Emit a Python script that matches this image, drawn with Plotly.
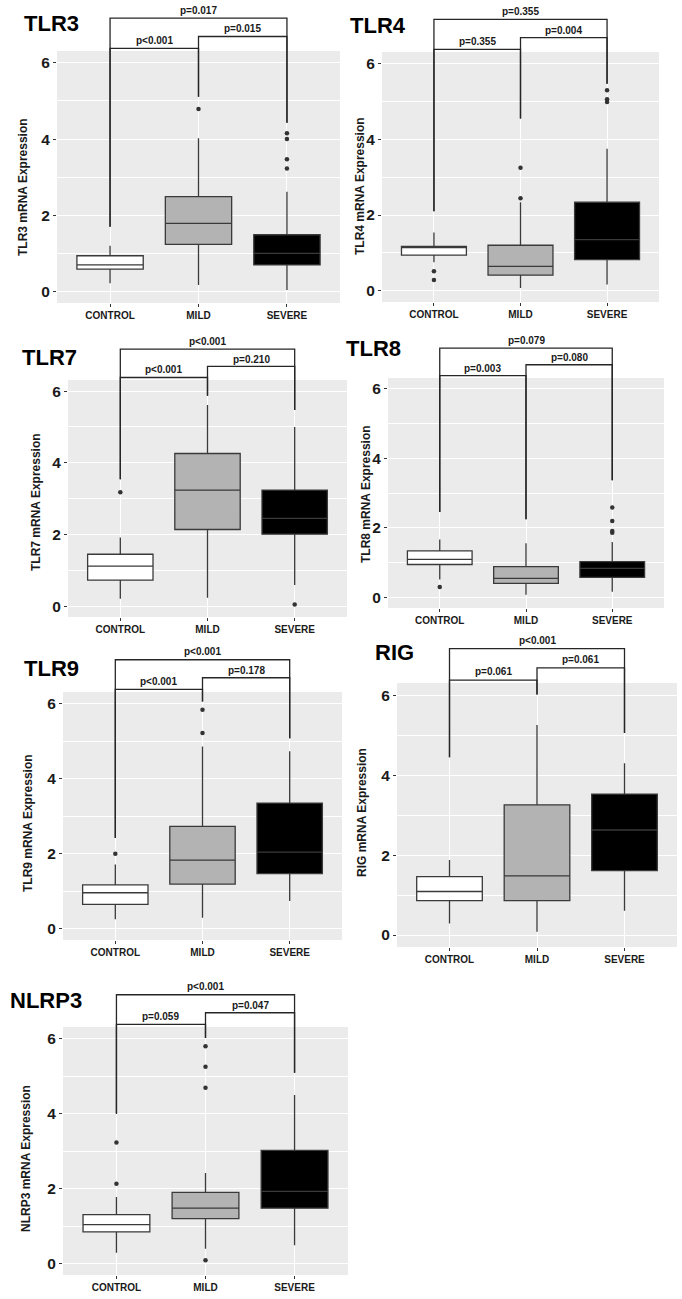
import plotly.graph_objects as go

W, H = 682, 1299

groups = ["CONTROL", "MILD", "SEVERE"]
genes = ["TLR3", "TLR4", "TLR7", "TLR8", "TLR9", "RIG", "NLRP3"]

q1 = [[0.59, 1.24, 0.70], [0.94, 0.41, 0.82], [0.73, 2.14, 2.01], [0.95, 0.41, 0.58],
      [0.65, 1.19, 1.47], [0.86, 0.86, 1.61], [0.85, 1.20, 1.48]]
median = [[0.70, 1.79, 1.00], [1.14, 0.64, 1.35], [1.12, 3.24, 2.45], [1.10, 0.55, 0.84],
          [0.96, 1.83, 2.04], [1.09, 1.48, 2.63], [1.04, 1.48, 1.93]]
q3 = [[0.94, 2.49, 1.49], [1.17, 1.20, 2.34], [1.45, 4.26, 3.24], [1.34, 0.89, 1.03],
      [1.17, 2.73, 3.35], [1.46, 3.26, 3.53], [1.31, 1.90, 3.02]]
lower = [[0.22, 0.17, 0.04], [0.75, 0.07, 0.16], [0.21, 0.24, 0.59], [0.52, 0.08, 0.17],
         [0.25, 0.29, 0.74], [0.29, 0.08, 0.61], [0.29, 0.40, 0.49]]
upper = [[1.20, 4.02, 2.62], [1.54, 2.34, 3.75], [1.92, 5.61, 5.00], [1.67, 1.56, 1.60],
         [1.71, 4.86, 4.73], [1.88, 5.26, 4.30], [1.78, 2.42, 4.50]]
outliers = [
    [[], [4.79], [4.15, 4.00, 3.47, 3.23]],
    [[0.51, 0.28], [3.25, 2.44], [5.30, 5.06, 4.99]],
    [[3.18], [], [0.05]],
    [[0.30], [], [2.59, 2.20, 1.91, 1.86]],
    [[2.00], [5.84, 5.22], []],
    [[], [], []],
    [[3.23, 2.13], [5.80, 5.25, 4.69, 0.09], []],
]
leg_bottom = [[1.70, 5.11, 4.43], [2.10, 4.55, 5.47], [3.54, 5.87, 5.47], [2.46, 2.25, 3.37],
              [2.42, 6.06, 5.08], [4.45, 6.02, 5.06], [4.00, 6.02, 5.09]]
p_ctrl_mild = ["p<0.001", "p=0.355", "p<0.001", "p=0.003", "p<0.001", "p=0.061", "p=0.059"]
p_mild_sev = ["p=0.015", "p=0.004", "p=0.210", "p=0.080", "p=0.178", "p=0.061", "p=0.047"]
p_ctrl_sev = ["p=0.017", "p=0.355", "p<0.001", "p=0.079", "p<0.001", "p<0.001", "p<0.001"]
y_ticks = [0, 2, 4, 6]

# layout (pixels): panel background left, right, top, bottom
panel_px = [(57, 340, 51, 303), (382, 659, 52, 302), (68, 347, 380, 617), (388, 664, 378, 608),
            (63, 342, 692, 940), (397, 677, 683, 947), (63, 348, 1027, 1275)]
title_px = [(22, 23), (348, 25), (20, 357), (344, 348), (22, 668), (373, 652), (8, 1000)]
ytitle_px = [(23, 187), (360, 186), (36, 502), (366, 494), (28, 823), (362, 813), (26, 1159)]

fill_colors = ["#ffffff", "#b3b3b3", "#000000"]
Y_BG_LO, Y_BG_HI, Y_MAX = -0.30, 6.31, 7.6
BR1, BR2, BR3 = 6.38, 6.69, 7.17
TX1, TX2, TX3 = 6.59, 6.89, 7.38

FONT = "Liberation Sans, Arial, sans-serif"
LINE = "#333333"

fig = go.Figure()
layout = dict(width=W, height=H, margin=dict(l=0, r=0, t=0, b=0),
              paper_bgcolor="white", plot_bgcolor="rgba(0,0,0,0)", showlegend=False,
              boxmode="overlay", shapes=[], annotations=[])

for i, gene in enumerate(genes):
    n = i + 1
    xa = "x" if n == 1 else f"x{n}"
    ya = "y" if n == 1 else f"y{n}"
    L, R, T, B = panel_px[i]
    ppu = (B - T) / (Y_BG_HI - Y_BG_LO)
    top_px = T - (Y_MAX - Y_BG_HI) * ppu
    layout["xaxis" if n == 1 else f"xaxis{n}"] = dict(
        domain=[L / W, R / W], anchor=ya, type="category", categoryorder="array",
        categoryarray=groups, range=[-0.6, 2.6], showgrid=True, gridcolor="white", gridwidth=1.2,
        ticks="outside", ticklen=3, tickcolor=LINE, tickwidth=1, zeroline=False, showline=False,
        tickfont=dict(family=FONT, size=10, color="#1a1a1a", weight="bold"), fixedrange=True)
    layout["yaxis" if n == 1 else f"yaxis{n}"] = dict(
        domain=[1 - B / H, 1 - top_px / H], anchor=xa, range=[Y_BG_LO, Y_MAX],
        tickvals=y_ticks, showgrid=True, gridcolor="white", gridwidth=1.2, zeroline=False,
        showline=False, ticks="outside", ticklen=3, tickcolor=LINE, tickwidth=1,
        minor=dict(tickvals=[1, 3, 5], showgrid=True, gridcolor="white", gridwidth=0.6, ticks=""),
        tickfont=dict(family=FONT, size=15.5, color="#1a1a1a", weight="bold"), fixedrange=True)
    # grey panel background
    layout["shapes"].append(dict(type="rect", xref=f"{xa} domain", yref=ya, x0=0, x1=1,
                                 y0=Y_BG_LO, y1=Y_BG_HI, fillcolor="#ebebeb", line=dict(width=0),
                                 layer="below"))
    for g in range(3):
        fig.add_trace(go.Box(
            x=[groups[g]], q1=[q1[i][g]], median=[median[i][g]], q3=[q3[i][g]],
            lowerfence=[lower[i][g]], upperfence=[upper[i][g]], width=0.75,
            fillcolor=fill_colors[g], line=dict(color="#3a3a3a", width=1.3), whiskerwidth=0,
            boxpoints=False, xaxis=xa, yaxis=ya, hoverinfo="skip"))
        if outliers[i][g]:
            fig.add_trace(go.Scatter(
                x=[groups[g]] * len(outliers[i][g]), y=outliers[i][g], mode="markers",
                marker=dict(color="#333333", size=4.5), xaxis=xa, yaxis=ya, hoverinfo="skip"))
    lb = leg_bottom[i]
    brackets = [
        ([groups[0], groups[0], groups[1], groups[1]], [lb[0], BR1, BR1, lb[1]]),
        ([groups[1], groups[1], groups[2], groups[2]], [lb[1], BR2, BR2, lb[2]]),
        ([groups[0], groups[0], groups[2], groups[2]], [lb[0], BR3, BR3, lb[2]]),
    ]
    for bx, by in brackets:
        fig.add_trace(go.Scatter(x=bx, y=by, mode="lines", line=dict(color="#262626", width=1.3),
                                 xaxis=xa, yaxis=ya, hoverinfo="skip", cliponaxis=False))
    for xpos, ypos, txt in [(0.5, TX1, p_ctrl_mild[i]), (1.5, TX2, p_mild_sev[i]),
                            (1.0, TX3, p_ctrl_sev[i])]:
        layout["annotations"].append(dict(
            x=xpos, y=ypos, xref=xa, yref=ya, text=txt, showarrow=False,
            font=dict(family=FONT, size=10, color="#1a1a1a", weight="bold"),
            xanchor="center", yanchor="middle"))
    tx, ty = title_px[i]
    layout["annotations"].append(dict(
        x=tx / W, y=1 - ty / H, xref="paper", yref="paper", text=gene, showarrow=False,
        font=dict(family=FONT, size=22, color="black", weight="bold"),
        xanchor="left", yanchor="middle"))
    yx, yy = ytitle_px[i]
    layout["annotations"].append(dict(
        x=yx / W, y=1 - yy / H, xref="paper", yref="paper", text=f"{gene} mRNA Expression",
        showarrow=False, textangle=-90,
        font=dict(family=FONT, size=12, color="#1a1a1a", weight="bold"),
        xanchor="center", yanchor="middle"))

fig.update_layout(**layout)
fig.write_html("out.html", config={"displayModeBar": False},
               post_script="document.body.style.margin='0';document.body.style.overflow='hidden';")
